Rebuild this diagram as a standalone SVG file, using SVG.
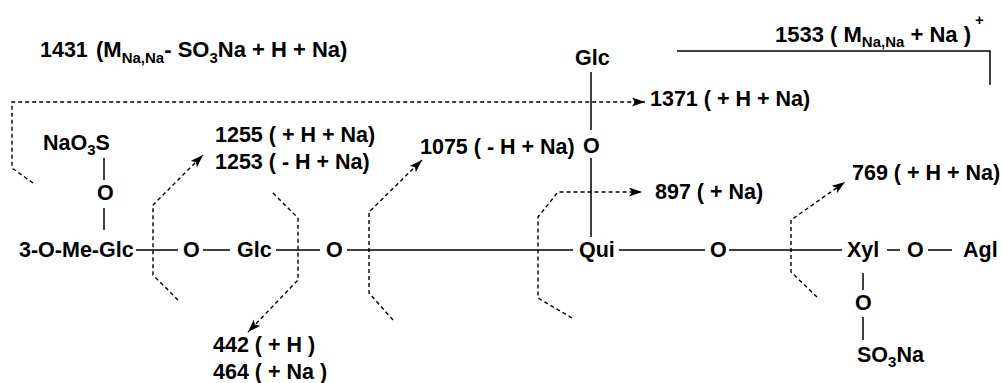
<svg xmlns="http://www.w3.org/2000/svg" width="1003" height="383" viewBox="0 0 1003 383">
<style>
.t{font-family:"Liberation Sans",Arial,Helvetica,sans-serif;font-weight:bold;font-size:21.5px;fill:#000}
.s{font-size:15px}
.ln{stroke:#000;stroke-width:1.5;fill:none}
.d{stroke:#000;stroke-width:1.4;fill:none;stroke-dasharray:4 3}
</style>
<defs>
<marker id="ah" markerUnits="userSpaceOnUse" markerWidth="14" markerHeight="10" refX="13" refY="4.5" orient="auto">
<path d="M0,0 L13,4.5 L0,9 L3,4.5 z" fill="#000"/>
</marker>
</defs>
<rect width="1003" height="383" fill="#fff"/>
<g id="connectors">
<path class="ln" d="M136,250 H178 M203,250 H230 M276,250 H320 M347,250 H573 M619,250 H705 M729,250 H842 M887,250 H900 M928,250 H952"/>
<path class="ln" d="M104,158 V180 M104,208 V230 M591,72 V130 M591,158 V237 M863,273 V290 M863,317 V340"/>
<path class="ln" d="M677,51 H990 V85"/>
<path class="d" d="M33,183 L12,168 V102 H645" marker-end="url(#ah)"/>
<path class="d" d="M178,300 L153,275 V205 L203,155" marker-end="url(#ah)"/>
<path class="d" d="M273,193 L298,218 V280 L248,332" marker-end="url(#ah)"/>
<path class="d" d="M393,320 L369,293 V212 L422,160" marker-end="url(#ah)"/>
<path class="d" d="M572,318 L538,298 V217 L558,192 H642" marker-end="url(#ah)"/>
<path class="d" d="M817,297 L791,272 V220 L845,182" marker-end="url(#ah)"/>
</g>
<g id="label-1431"><text class="t" x="40" y="57">1431</text><text class="t" x="96" y="57" style="font-size:22px">(M<tspan class="s" dy="6">Na,Na</tspan><tspan dy="-6">- SO</tspan><tspan class="s" dy="6">3</tspan><tspan dy="-6">Na + H + Na)</tspan></text></g>
<g id="label-1533"><text class="t" x="775" y="42" style="font-size:22px">1533 ( M<tspan class="s" dy="5">Na,Na</tspan><tspan dy="-5"> + Na )</tspan><tspan class="s" dx="4" dy="-17">+</tspan></text></g>
<g id="node-meglc"><text class="t" x="19" y="257">3-O-Me-Glc</text></g>
<g id="node-o1"><text class="t" x="183" y="257">O</text></g>
<g id="node-glc1"><text class="t" x="237" y="257">Glc</text></g>
<g id="node-o2"><text class="t" x="326" y="257">O</text></g>
<g id="node-qui"><text class="t" x="579" y="257">Qui</text></g>
<g id="node-o3"><text class="t" x="710" y="257">O</text></g>
<g id="node-xyl"><text class="t" x="847" y="257">Xyl</text></g>
<g id="node-o4"><text class="t" x="907" y="257">O</text></g>
<g id="node-agl"><text class="t" x="963" y="257">Agl</text></g>
<g id="node-nao3s"><text class="t" x="43" y="150">NaO<tspan class="s" dy="5">3</tspan><tspan dy="-5">S</tspan></text></g>
<g id="node-o5"><text class="t" x="97" y="200">O</text></g>
<g id="node-glc2"><text class="t" x="575" y="65">Glc</text></g>
<g id="node-o6"><text class="t" x="583" y="153">O</text></g>
<g id="node-o7"><text class="t" x="855" y="310">O</text></g>
<g id="node-so3na"><text class="t" x="857" y="362">SO<tspan class="s" dy="5">3</tspan><tspan dy="-5">Na</tspan></text></g>
<g id="label-1255"><text class="t" x="215" y="142">1255 ( + H + Na)</text></g>
<g id="label-1253"><text class="t" x="215" y="169">1253 ( - H + Na)</text></g>
<g id="label-1075"><text class="t" x="420" y="154">1075 ( - H + Na)</text></g>
<g id="label-1371"><text class="t" x="650" y="106">1371 ( + H + Na)</text></g>
<g id="label-897"><text class="t" x="655" y="199">897 ( + Na)</text></g>
<g id="label-769"><text class="t" x="852" y="180">769 ( + H + Na)</text></g>
<g id="label-442"><text class="t" x="213" y="352">442 ( + H )</text></g>
<g id="label-464"><text class="t" x="213" y="379">464 ( + Na )</text></g>
</svg>
